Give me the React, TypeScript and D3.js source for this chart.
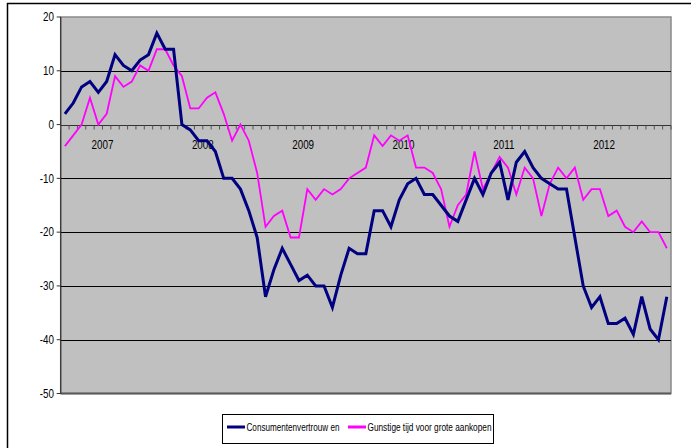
import React, { useEffect, useRef } from 'react';
import * as d3 from 'd3';

// maandcijfers aug 2006 - aug 2012
const months: Date[] = d3.timeMonths(new Date(2006, 7, 1), new Date(2012, 8, 1));

const consumentenvertrouwen = [
  2, 4, 7, 8, 6, 8, 13, 11, 10, 12, 13, 17, 14, 14, 0, -1, -3, -3, -5, -10, -10, -12,
  -16, -21, -32, -27, -23, -26, -29, -28, -30, -30, -34, -28, -23, -24, -24, -16, -16, -19,
  -14, -11, -10, -13, -13, -15, -17, -18, -14, -10, -13, -9, -7, -14, -7, -5, -8, -10,
  -11, -12, -12, -21, -30, -34, -32, -37, -37, -36, -39, -32, -38, -40, -32,
];

const gunstigeTijd = [
  -4, -2, 0, 5, 0, 2, 9, 7, 8, 11, 10, 14, 14, 11, 9, 3, 3, 5, 6, 2, -3, 0,
  -3, -9, -19, -17, -16, -21, -21, -12, -14, -12, -13, -12, -10, -9, -8, -2, -4, -2,
  -3, -2, -8, -8, -9, -12, -19, -15, -13, -5, -12, -9, -6, -8, -13, -8, -10, -17,
  -11, -8, -10, -8, -14, -12, -12, -17, -16, -19, -20, -18, -20, -20, -23,
];

const yTicks = [20, 10, 0, -10, -20, -30, -40, -50];
const yearLabels = ['2007', '2008', '2009', '2010', '2011', '2012'];

const seriesNames = ['Consumentenvertrouw en', 'Gunstige tijd voor grote aankopen'];
const seriesColors = ['#000080', '#FF00FF'];

const FONT = '"Liberation Sans", Arial, sans-serif';
const NARROW = 0.82; // smal lettertype nabootsen

const App = () => {
  const chartRef = useRef<HTMLDivElement | null>(null);
  const width = 691;
  const height = 448;

  useEffect(() => {
    d3.select(chartRef.current).select('svg').remove();

    const svg = d3.select(chartRef.current)
      .append('svg')
      .attr('width', width)
      .attr('height', height)
      .style('position', 'absolute')
      .style('left', 0)
      .style('top', 0)
      .style('background', '#fff');

    const left = 60.7, right = 671, top = 17, bottom = 393.5;

    const x = d3.scaleBand<number>()
      .domain(d3.range(months.length))
      .range([left, right])
      .padding(0);

    const y = d3.scaleLinear().domain([-50, 20]).range([bottom, top]);

    // buitenkader
    svg.append('rect')
      .attr('x', 7.5).attr('y', 3.5)
      .attr('width', 720).attr('height', 480)
      .attr('fill', 'none')
      .attr('stroke', '#000')
      .attr('stroke-width', 1.5);

    // plotgebied
    svg.append('rect')
      .attr('x', left).attr('y', top)
      .attr('width', right - left).attr('height', bottom - top)
      .attr('fill', '#C0C0C0')
      .attr('stroke', '#8a8a8a')
      .attr('stroke-width', 1.5);

    // rasterlijnen
    svg.append('g')
      .selectAll('line')
      .data(yTicks.filter(d => d !== 20 && d !== -50))
      .enter()
      .append('line')
      .attr('x1', left).attr('x2', right)
      .attr('y1', d => Math.round(y(d)) + 0.5)
      .attr('y2', d => Math.round(y(d)) + 0.5)
      .attr('stroke', '#000')
      .attr('stroke-width', 1);

    svg.append('line')
      .attr('x1', left).attr('x2', right)
      .attr('y1', bottom).attr('y2', bottom)
      .attr('stroke', '#5a5a5a')
      .attr('stroke-width', 2);

    // y-as
    svg.append('line')
      .attr('x1', left).attr('x2', left)
      .attr('y1', top).attr('y2', bottom)
      .attr('stroke', '#333')
      .attr('stroke-width', 1.2);

    const yAxis = svg.append('g');
    yAxis.selectAll('line')
      .data(yTicks)
      .enter()
      .append('line')
      .attr('x1', left - 4).attr('x2', left)
      .attr('y1', d => y(d)).attr('y2', d => y(d))
      .attr('stroke', '#333');
    yAxis.selectAll('text')
      .data(yTicks)
      .enter()
      .append('text')
      .attr('transform', d => `translate(54,${y(d)}) scale(${NARROW},1)`)
      .attr('dy', '0.35em')
      .attr('text-anchor', 'end')
      .style('font-family', FONT)
      .style('font-size', '12px')
      .style('fill', '#000')
      .text(d => d);

    // x-as op nul met maandstreepjes
    const y0 = Math.round(y(0)) + 0.5;
    svg.append('line')
      .attr('x1', left).attr('x2', right)
      .attr('y1', y0).attr('y2', y0)
      .attr('stroke', '#333')
      .attr('stroke-width', 1.2);
    svg.append('g')
      .selectAll('line')
      .data(d3.range(months.length + 1))
      .enter()
      .append('line')
      .attr('x1', i => left + i * x.bandwidth())
      .attr('x2', i => left + i * x.bandwidth())
      .attr('y1', y0).attr('y2', y0 + 4)
      .attr('stroke', '#555');

    svg.append('g')
      .selectAll('text')
      .data(yearLabels)
      .enter()
      .append('text')
      .attr('transform', d => {
        const xi = x(months.findIndex(m => m.getFullYear() === +d && m.getMonth() === 0)) as number;
        return `translate(${xi},149) scale(${NARROW},1)`;
      })
      .attr('text-anchor', 'middle')
      .style('font-family', FONT)
      .style('font-size', '12px')
      .style('fill', '#000')
      .text(d => d);

    // lijnen
    const line = d3.line<number>()
      .x((_, i) => (x(i) as number) + x.bandwidth() / 2)
      .y(d => y(d));

    svg.append('path')
      .attr('d', line(gunstigeTijd))
      .attr('fill', 'none')
      .attr('stroke', seriesColors[1])
      .attr('stroke-width', 1.8)
      .attr('stroke-linejoin', 'miter');

    svg.append('path')
      .attr('d', line(consumentenvertrouwen))
      .attr('fill', 'none')
      .attr('stroke', seriesColors[0])
      .attr('stroke-width', 3)
      .attr('stroke-linejoin', 'miter');

    // legenda
    const legend = svg.append('g');
    legend.append('rect')
      .attr('x', 222.5).attr('y', 414.5)
      .attr('width', 271).attr('height', 29)
      .attr('fill', '#fff')
      .attr('stroke', '#000')
      .attr('stroke-width', 1);

    const legendX = [227, 348];
    const legendW = [93, 124];
    seriesNames.forEach((name, i) => {
      legend.append('line')
        .attr('x1', legendX[i]).attr('x2', legendX[i] + 18)
        .attr('y1', 427).attr('y2', 427)
        .attr('stroke', seriesColors[i])
        .attr('stroke-width', 3);
      legend.append('text')
        .attr('x', legendX[i] + 19.5)
        .attr('y', 430.5)
        .attr('textLength', legendW[i])
        .attr('lengthAdjust', 'spacingAndGlyphs')
        .style('font-family', FONT)
        .style('font-size', '10.5px')
        .style('fill', '#000')
        .text(name);
    });
  }, []);

  return (
    <div ref={chartRef}></div>
  );
};

export default App;
